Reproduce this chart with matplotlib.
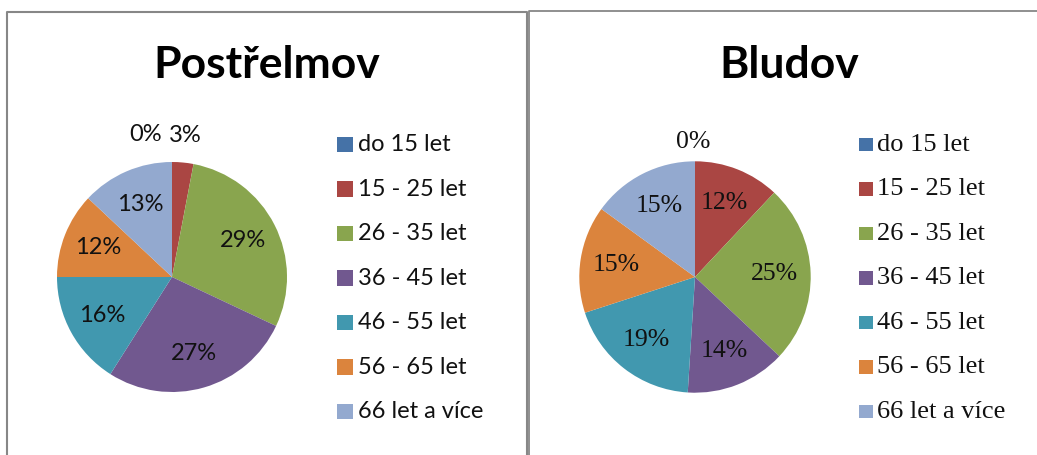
import numpy as np
import matplotlib.pyplot as plt
from matplotlib.lines import Line2D
from matplotlib.patches import Rectangle

categories = ["do 15 let", "15 - 25 let", "26 - 35 let", "36 - 45 let",
              "46 - 55 let", "56 - 65 let", "66 let a více"]
postrelmov = [0, 3, 29, 27, 16, 12, 13]
bludov = [0, 12, 25, 14, 19, 15, 15]
colors = ["#4572A7", "#AA4643", "#89A54E", "#71588F", "#4198AF", "#DB843D", "#93A9CF"]

W, H = 1037, 455
fig = plt.figure(figsize=(W / 100, H / 100), dpi=100)


def fx(x):
    return x / W


def fy(y):
    return 1 - y / H


def panel(values, title, title_x, cx, cy, r, font, lab_size, out_r, zero_dx,
          sq_x, sq, txt_x, leg_size):
    ax = fig.add_axes([(cx - r) / W, (H - cy - r) / H, 2 * r / W, 2 * r / H])
    ax.pie(values, colors=colors, startangle=90, counterclock=False,
           wedgeprops=dict(linewidth=0))
    ax.set_xlim(-1, 1)
    ax.set_ylim(-1, 1)
    ax.set_aspect("auto")

    total = float(sum(values))
    angle = 90.0
    for v in values:
        frac = v / total
        mid = np.radians(angle - frac * 180)
        angle -= frac * 360
        lab = "%d%%" % round(frac * 100)
        if frac < 0.05:
            x, y = out_r * np.cos(mid), out_r * np.sin(mid)
            if v == 0:
                x += zero_dx / r
        else:
            x, y = 0.69 * np.cos(mid), 0.69 * np.sin(mid)
        ax.text(x, y, lab, ha="center", va="center", fontsize=lab_size,
                family=font, color="#111111", clip_on=False)

    fig.text(fx(title_x), fy(78), title, ha="center", va="baseline",
             fontsize=32, fontweight="bold", family="Lato", color="black")

    for i, name in enumerate(categories):
        yc = 144.7 + i * 44.5
        fig.patches.append(Rectangle((fx(sq_x), fy(yc + sq / 2)), sq / W, sq / H,
                                     transform=fig.transFigure, color=colors[i], lw=0))
        fig.text(fx(txt_x), fy(yc), name, ha="left", va="center",
                 fontsize=leg_size, family=font, color="#111111")


panel(postrelmov, "Postřelmov", 267, 172, 277, 115, "Lato", 17, 1.24, -26,
      337, 15.5, 358, 17)
panel(bludov, "Bludov", 789, 695, 277, 115.7, "Liberation Serif", 18.5, 1.17, -2,
      859.3, 13.5, 877, 19)

# panel borders
border = "#878787"
fig.lines.append(Line2D([fx(7), fx(7), fx(527), fx(527)],
                        [fy(470), fy(12), fy(12), fy(470)],
                        transform=fig.transFigure, color=border, lw=1.5))
fig.lines.append(Line2D([fx(529), fx(529), fx(1045)],
                        [fy(470), fy(10.7), fy(10.7)],
                        transform=fig.transFigure, color=border, lw=1.3))

fig.savefig("out.png", dpi=100, facecolor="white")
